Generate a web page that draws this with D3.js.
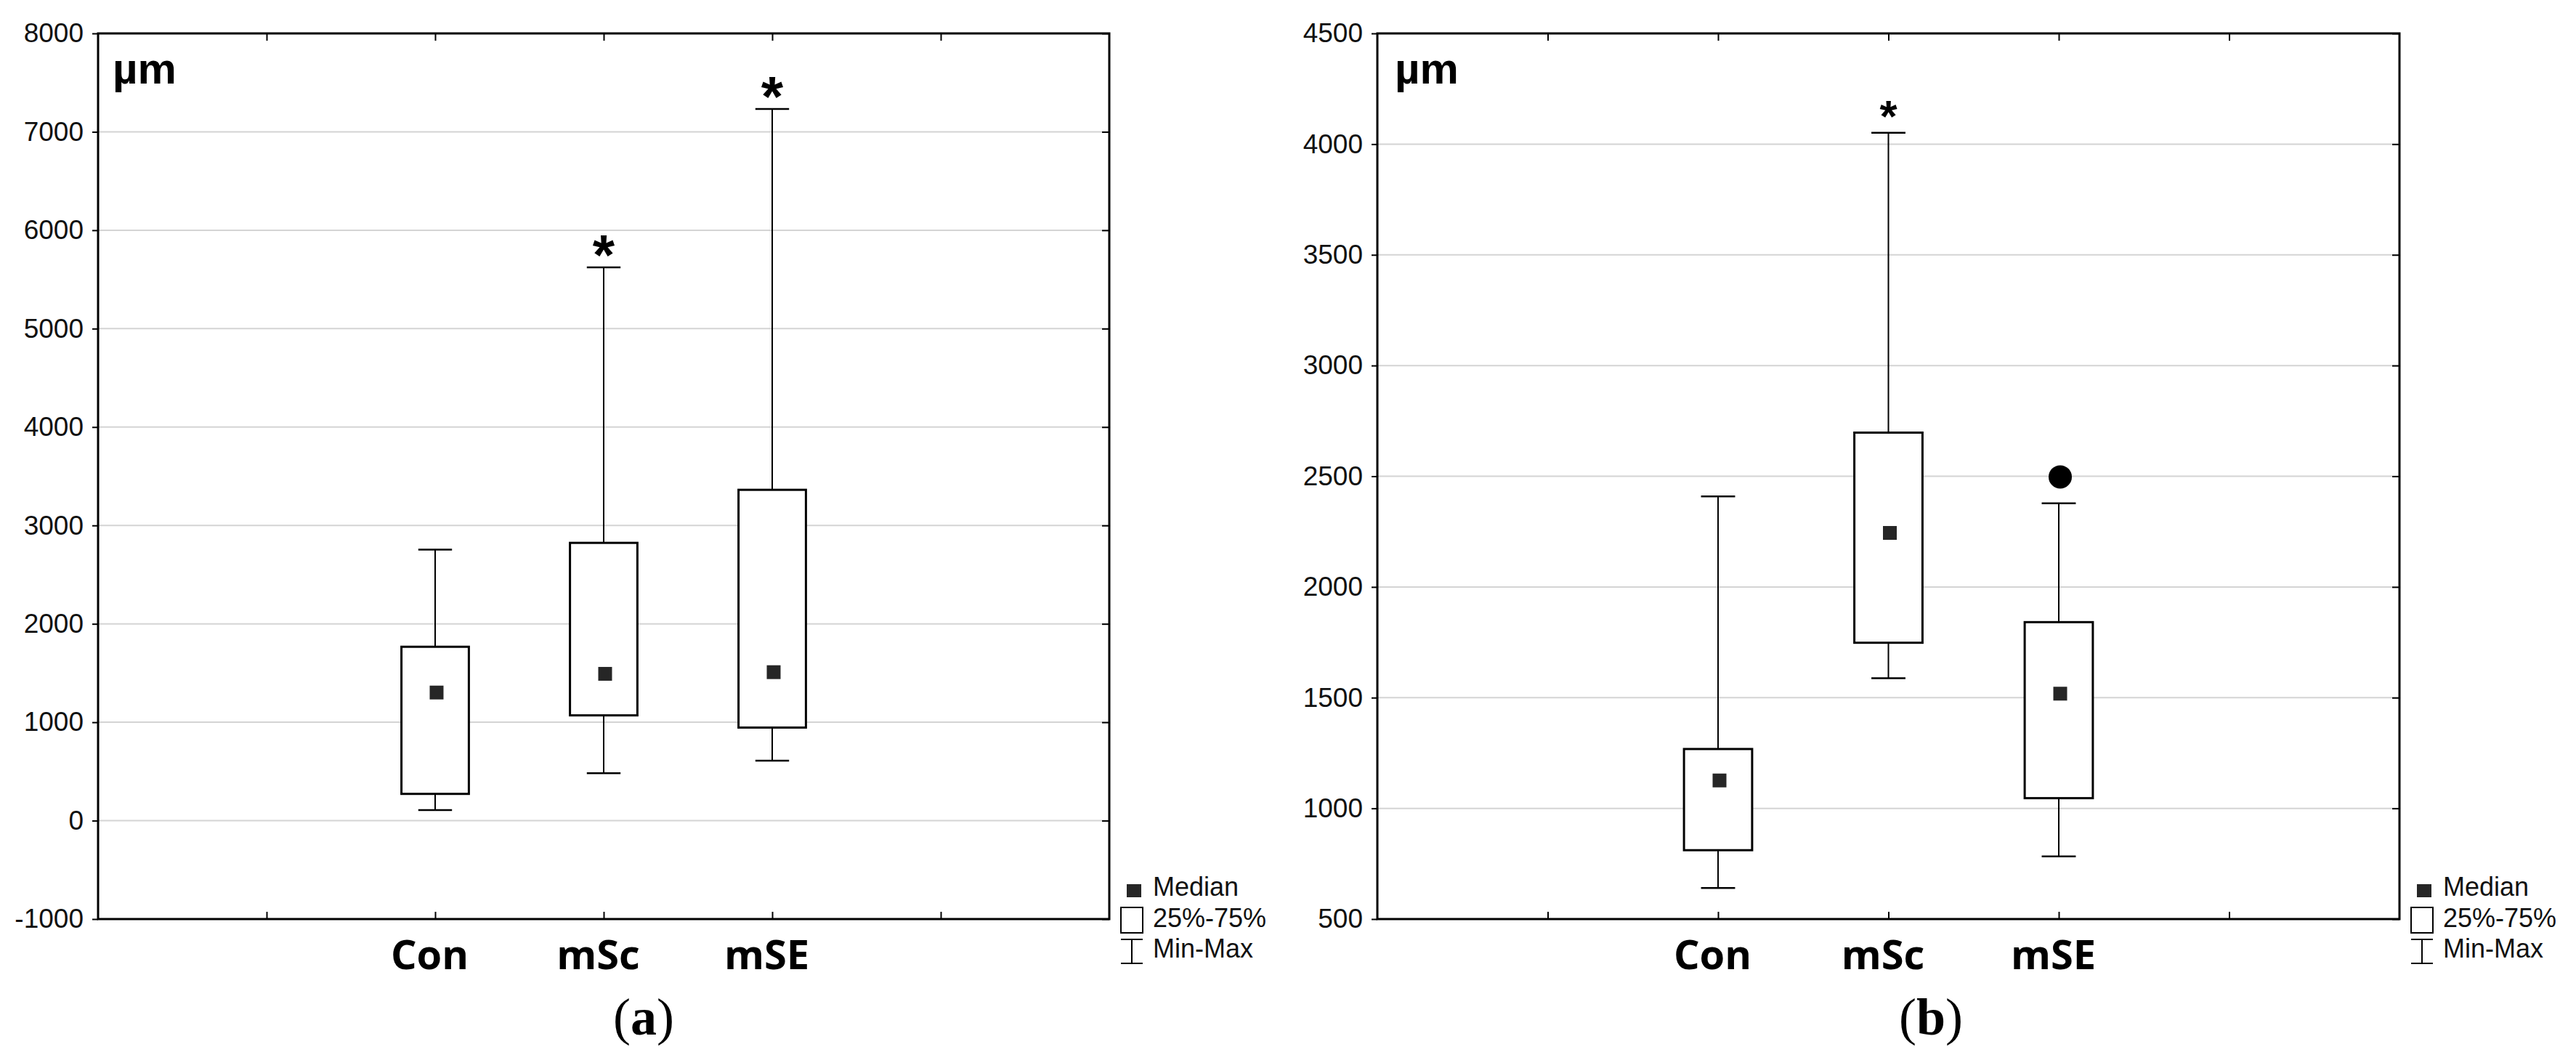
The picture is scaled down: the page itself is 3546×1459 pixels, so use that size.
<!DOCTYPE html>
<html><head><meta charset="utf-8">
<script src="https://cdn.jsdelivr.net/npm/d3@7"></script>
<style>body{margin:0;background:#fff}</style></head>
<body>
<svg id="c" width="3546" height="1459"></svg>
<script>
// ---------- data ----------
const slots = ["padL", "Con", "mSc", "mSE", "padR"];
const groups = ["Con", "mSc", "mSE"];

const aMin    = [107, 483, 610];
const aQ1     = [272, 1070, 946];
const aMedian = [1302, 1492, 1509];
const aQ3     = [1767, 2823, 3362];
const aMax    = [2755, 5622, 7233];
const aStar   = [false, true, true];
const aOutlier = [null, null, null];
const aTicks  = [-1000, 0, 1000, 2000, 3000, 4000, 5000, 6000, 7000, 8000];

const bMin    = [640, 1588, 783];
const bQ1     = [811, 1748, 1046];
const bMedian = [1126, 2244, 1518];
const bQ3     = [1268, 2697, 1841];
const bMax    = [2409, 4051, 2378];
const bStar   = [false, true, false];
const bOutlier = [null, null, 2497];
const bTicks  = [500, 1000, 1500, 2000, 2500, 3000, 3500, 4000, 4500];

const unitLabel = "µm";
const legendLabels = ["Median", "25%-75%", "Min-Max"];
const panelLetters = ["a", "b"];

// ---------- drawing ----------
const svg = d3.select("#c");
svg.append("rect").attr("width", 3546).attr("height", 1459).attr("fill", "#fff");

function panel(cfg) {
  const {x0, x1, y0, y1, ticks, mins, q1s, meds, q3s, maxs, stars, outliers, starSize, starDy, unitDx, letter, letterX} = cfg;
  const g = svg.append("g");
  const x = d3.scalePoint().domain(slots).range([x0, x1]).padding(1);
  const y = d3.scaleLinear().domain([ticks[0], ticks[ticks.length - 1]]).range([y1, y0]);
  const step = x.step();

  // gridlines
  g.append("g").selectAll("line").data(ticks.slice(1, -1)).join("line")
    .attr("x1", x0).attr("x2", x1).attr("y1", d => y(d)).attr("y2", d => y(d))
    .attr("stroke", "#d4d4d4").attr("stroke-width", 2);

  // left axis with labels
  const ya = g.append("g").attr("transform", `translate(${x0},0)`)
    .call(d3.axisLeft(y).tickValues(ticks).tickSize(8).tickPadding(12).tickFormat(d => String(d)));
  ya.select(".domain").remove();
  ya.selectAll("line").attr("stroke", "#000").attr("stroke-width", 2);
  ya.selectAll("text").attr("font-family", "Liberation Sans, Arial, sans-serif")
    .attr("font-size", 37).attr("fill", "#111");

  // right inward ticks
  const yr = g.append("g").attr("transform", `translate(${x1},0)`)
    .call(d3.axisRight(y).tickValues(ticks).tickSize(-10).tickFormat(""));
  yr.select(".domain").remove();
  yr.selectAll("line").attr("stroke", "#000").attr("stroke-width", 2);

  // top inward ticks
  const xt = g.append("g").attr("transform", `translate(0,${y0})`)
    .call(d3.axisTop(x).tickSize(-10).tickFormat(""));
  xt.select(".domain").remove();
  xt.selectAll("line").attr("stroke", "#000").attr("stroke-width", 2);

  // bottom inward ticks + category labels
  const xb = g.append("g").attr("transform", `translate(0,${y1})`)
    .call(d3.axisBottom(x).tickSize(-10).tickPadding(29).tickFormat(d => groups.includes(d) ? d : ""));
  xb.select(".domain").remove();
  xb.selectAll("line").attr("stroke", "#000").attr("stroke-width", 2);
  xb.selectAll("text").attr("font-family", "Open Sans, sans-serif").attr("font-weight", 700)
    .attr("font-size", 56).attr("fill", "#000").attr("dx", -8);

  // frame
  g.append("rect").attr("x", x0).attr("y", y0).attr("width", x1 - x0).attr("height", y1 - y0)
    .attr("fill", "none").attr("stroke", "#000").attr("stroke-width", 3);

  const bw = step * 0.4, cw = step * 0.2;
  const data = groups.map((k, i) => ({k, min: mins[i], q1: q1s[i], med: meds[i], q3: q3s[i], max: maxs[i], star: stars[i], out: outliers[i]}));
  const bx = g.append("g").selectAll("g").data(data).join("g");
  // whiskers
  bx.append("line").attr("x1", d => x(d.k)).attr("x2", d => x(d.k))
    .attr("y1", d => y(d.max)).attr("y2", d => y(d.q3)).attr("stroke", "#000").attr("stroke-width", 2);
  bx.append("line").attr("x1", d => x(d.k)).attr("x2", d => x(d.k))
    .attr("y1", d => y(d.q1)).attr("y2", d => y(d.min)).attr("stroke", "#000").attr("stroke-width", 2);
  bx.append("line").attr("x1", d => x(d.k) - cw / 2).attr("x2", d => x(d.k) + cw / 2)
    .attr("y1", d => y(d.max)).attr("y2", d => y(d.max)).attr("stroke", "#000").attr("stroke-width", 2.5);
  bx.append("line").attr("x1", d => x(d.k) - cw / 2).attr("x2", d => x(d.k) + cw / 2)
    .attr("y1", d => y(d.min)).attr("y2", d => y(d.min)).attr("stroke", "#000").attr("stroke-width", 2.5);
  // box
  bx.append("rect").attr("x", d => x(d.k) - bw / 2).attr("width", bw)
    .attr("y", d => y(d.q3)).attr("height", d => y(d.q1) - y(d.q3))
    .attr("fill", "#fff").attr("stroke", "#000").attr("stroke-width", 3);
  // median
  bx.append("rect").attr("x", d => x(d.k) - 9.5 + 2).attr("width", 19)
    .attr("y", d => y(d.med) - 9.5).attr("height", 19).attr("fill", "#262626");
  // stars
  bx.filter(d => d.star).append("text").attr("x", d => x(d.k)).attr("y", d => y(d.max) + starDy)
    .attr("text-anchor", "middle").attr("font-family", "Liberation Sans, Arial, sans-serif")
    .attr("font-weight", 700).attr("font-size", starSize).text("*");
  // outliers
  bx.filter(d => d.out != null).append("circle").attr("cx", d => x(d.k) + 2).attr("cy", d => y(d.out))
    .attr("r", 16).attr("fill", "#000");

  // unit label
  g.append("text").attr("x", x0 + unitDx).attr("y", y0 + 69)
    .attr("font-family", "Liberation Sans, Arial, sans-serif").attr("font-weight", 700)
    .attr("font-size", 60).text(unitLabel);

  // legend
  const lx = x1 + 16, lg = g.append("g");
  lg.append("rect").attr("x", lx + 8).attr("y", 1217).attr("width", 20).attr("height", 18).attr("fill", "#262626");
  lg.append("rect").attr("x", lx).attr("y", 1249).attr("width", 30).attr("height", 35)
    .attr("fill", "#fff").attr("stroke", "#000").attr("stroke-width", 2);
  lg.append("line").attr("x1", lx).attr("x2", lx + 30).attr("y1", 1293).attr("y2", 1293).attr("stroke", "#000").attr("stroke-width", 2);
  lg.append("line").attr("x1", lx).attr("x2", lx + 30).attr("y1", 1326).attr("y2", 1326).attr("stroke", "#000").attr("stroke-width", 2);
  lg.append("line").attr("x1", lx + 15).attr("x2", lx + 15).attr("y1", 1293).attr("y2", 1326).attr("stroke", "#000").attr("stroke-width", 2);
  lg.selectAll("text").data(legendLabels).join("text")
    .attr("x", lx + 44).attr("y", (d, i) => 1233 + i * 42.5)
    .attr("font-family", "Liberation Sans, Arial, sans-serif").attr("font-size", 36).attr("fill", "#111")
    .text(d => d);

  // panel letter
  const t = svg.append("text").attr("x", letterX).attr("y", 1424).attr("text-anchor", "middle")
    .attr("font-family", "Liberation Serif, Times New Roman, serif").attr("font-size", 72);
  t.append("tspan").text("(");
  t.append("tspan").attr("font-weight", 700).text(letter);
  t.append("tspan").text(")");
}

panel({x0: 135, x1: 1527, y0: 46, y1: 1265, ticks: aTicks, mins: aMin, q1s: aQ1, meds: aMedian,
  q3s: aQ3, maxs: aMax, stars: aStar, outliers: aOutlier, starSize: 78, starDy: 10, unitDx: 20, letter: panelLetters[0], letterX: 886});
panel({x0: 1896, x1: 3303, y0: 46, y1: 1265, ticks: bTicks, mins: bMin, q1s: bQ1, meds: bMedian,
  q3s: bQ3, maxs: bMax, stars: bStar, outliers: bOutlier, starSize: 62, starDy: -2, unitDx: 24, letter: panelLetters[1], letterX: 2658});
</script>
</body></html>
